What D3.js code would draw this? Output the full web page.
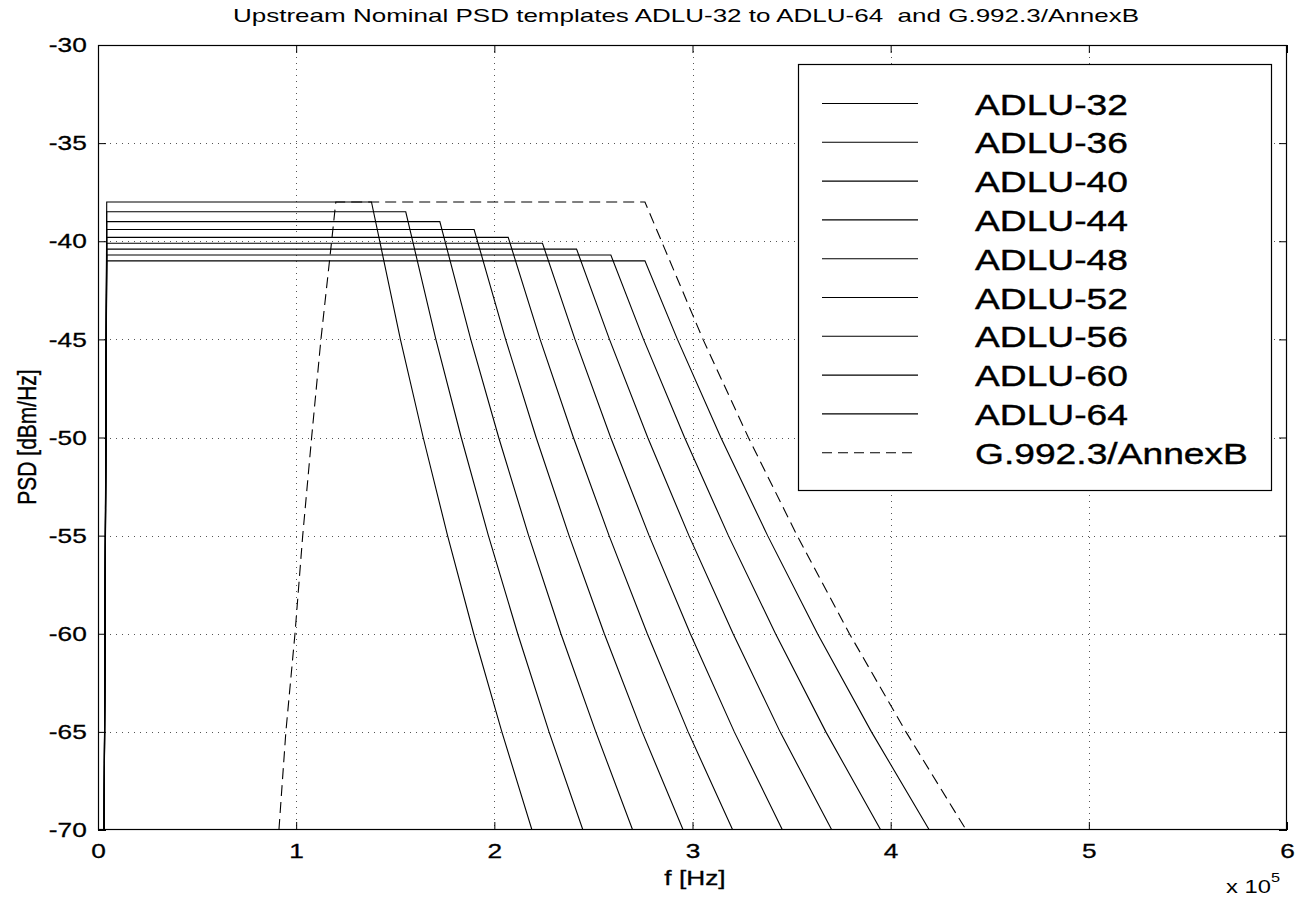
<!DOCTYPE html>
<html><head><meta charset="utf-8">
<script src="https://cdn.jsdelivr.net/npm/d3@7"></script>
<style>
body{margin:0;background:#fff}
svg{display:block}
text{font-family:"Liberation Sans",Arial,Helvetica,sans-serif;fill:#000}
</style>
</head><body>
<svg id="chart" width="1297" height="898"></svg>
<script>
// ---------------- data (frequency in units of 1e5 Hz, PSD in dBm/Hz) ----------------
const seriesNames = ["ADLU-32","ADLU-36","ADLU-40","ADLU-44","ADLU-48","ADLU-52","ADLU-56","ADLU-60","ADLU-64"];
const flatLevels  = [-38.0,-38.5,-39.0,-39.4,-39.8,-40.1,-40.4,-40.7,-41.0];
const riseStartF  = 0.031;   // low-frequency edge, bottom
const riseEndF    = 0.044;   // low-frequency edge, top
const kneeF       = [1.380,1.553,1.725,1.898,2.070,2.243,2.415,2.588,2.760];
const dropLevels  = [-45,-50,-55,-60,-65,-70];
const fAtMinus45  = [1.526,1.705,1.881,2.057,2.231,2.407,2.581,2.753,2.924];
const fAtMinus50  = [1.641,1.833,2.022,2.211,2.399,2.587,2.774,2.960,3.143];
const fAtMinus55  = [1.764,1.970,2.173,2.377,2.579,2.781,2.982,3.181,3.379];
const fAtMinus60  = [1.896,2.118,2.336,2.555,2.772,2.989,3.205,3.419,3.631];
const fAtMinus65  = [2.038,2.276,2.512,2.746,2.978,3.211,3.442,3.673,3.903];
const fAtMinus70  = [2.190,2.447,2.698,2.953,3.203,3.454,3.703,3.950,4.195];
const annexBName  = "G.992.3/AnnexB";
const annexBF     = [0.913,0.948,0.994,1.033,1.078,1.125,1.179,1.200,2.760,3.053,3.282,3.528,3.792,4.077,4.381];
const annexBdB    = [-70,-65,-60,-55,-50,-45,-40,-38,-38,-45,-50,-55,-60,-65,-70];
const xTicks      = [0,1,2,3,4,5,6];
const yTicks      = [-70,-65,-60,-55,-50,-45,-40,-35,-30];
const titleText   = "Upstream Nominal PSD templates ADLU-32 to ADLU-64  and G.992.3/AnnexB";
const xLabelText  = "f [Hz]";
const yLabelText  = "PSD [dBm/Hz]";

// ---------------- layout ----------------
const L = 98, R = 1287, T = 45, B = 830;
const svg = d3.select("#chart");
const x = d3.scaleLinear().domain([0,6]).range([L,R]);
const y = d3.scaleLinear().domain([-70,-30]).range([B,T]);
const SX = 1.25; // horizontal stretch of the reference's lettering

svg.append("rect").attr("width",1297).attr("height",898).attr("fill","#fff");

// grid
const grid = svg.append("g").attr("stroke","#555").attr("stroke-width",1).attr("stroke-dasharray","1,5");
grid.selectAll(".gx").data(xTicks.slice(1,-1)).join("line")
  .attr("x1",d=>Math.round(x(d))+0.5).attr("x2",d=>Math.round(x(d))+0.5).attr("y1",T).attr("y2",B);
grid.selectAll(".gy").data(yTicks.slice(1,-1)).join("line")
  .attr("y1",d=>Math.round(y(d))+0.5).attr("y2",d=>Math.round(y(d))+0.5).attr("x1",L).attr("x2",R);

// data
svg.append("clipPath").attr("id","clip").append("rect").attr("x",L).attr("y",T).attr("width",R-L).attr("height",B-T);
const line = d3.line().x(d=>x(d[0])).y(d=>y(d[1]));
const dropF = [fAtMinus45,fAtMinus50,fAtMinus55,fAtMinus60,fAtMinus65,fAtMinus70];
const adlu = seriesNames.map((n,i)=>({name:n, pts:
  [[riseStartF,-70],[riseEndF,flatLevels[i]],[kneeF[i],flatLevels[i]]]
  .concat(dropLevels.map((lv,k)=>[dropF[k][i],lv]))}));
const annexB = annexBF.map((f,i)=>[f,annexBdB[i]]);
const dg = svg.append("g").attr("clip-path","url(#clip)").attr("fill","none");
dg.selectAll("path.adlu").data(adlu).join("path").attr("class","adlu")
  .attr("d",d=>line(d.pts)).attr("stroke","#000").attr("stroke-width",1.1);
dg.append("path").attr("d",line(annexB)).attr("stroke","#000").attr("stroke-width",1.1).attr("stroke-dasharray","11,6");

// axes
const fmt = d=>String(d);
const ax = svg.append("g").attr("transform",`translate(0,${B})`)
  .call(d3.axisBottom(x).tickValues(xTicks).tickSizeInner(-8).tickSizeOuter(0).tickPadding(13).tickFormat(fmt));
svg.append("g").attr("transform",`translate(0,${T})`)
  .call(d3.axisTop(x).tickValues(xTicks).tickSizeInner(-8).tickSizeOuter(0).tickFormat(""));
const ay = svg.append("g").attr("transform",`translate(${L},0)`)
  .call(d3.axisLeft(y).tickValues(yTicks).tickSizeInner(-8).tickSizeOuter(0).tickPadding(9).tickFormat(fmt));
svg.append("g").attr("transform",`translate(${R},0)`)
  .call(d3.axisRight(y).tickValues(yTicks).tickSizeInner(-8).tickSizeOuter(0).tickFormat(""));
svg.selectAll(".domain").remove();
svg.selectAll(".tick line").attr("stroke","#000");
svg.selectAll(".tick text").attr("font-size",21).attr("font-family","Liberation Sans, Arial, sans-serif")
  .attr("fill","#000").attr("stroke","#000").attr("stroke-width",0.3);
ax.selectAll(".tick text").attr("transform",`scale(${SX},1)`);
ay.selectAll(".tick text").attr("transform",`scale(${SX},1)`);

// box
svg.append("rect").attr("x",L+0.5).attr("y",T+0.5).attr("width",R-L-1).attr("height",B-T-1)
  .attr("fill","none").attr("stroke","#000").attr("stroke-width",1.2);

// title & labels
svg.append("text").attr("x",686).attr("y",22).attr("text-anchor","middle").attr("font-size",19)
  .style("white-space","pre").attr("textLength",906).attr("lengthAdjust","spacingAndGlyphs").text(titleText);
svg.append("text").attr("transform",`translate(695,885) scale(${SX},1)`).attr("text-anchor","middle")
  .attr("font-size",21).attr("stroke","#000").attr("stroke-width",0.3).text(xLabelText);
svg.append("text").attr("transform",`translate(36,437) scale(${SX},1) rotate(-90)`).attr("text-anchor","middle")
  .attr("font-size",21).attr("stroke","#000").attr("stroke-width",0.3).text(yLabelText);
const ex = svg.append("text").attr("transform",`translate(1226,893) scale(${SX},1)`).attr("font-size",19);
ex.append("tspan").text("x 10");
ex.append("tspan").attr("dy",-11).attr("font-size",13).text("5");

// legend
const lg = svg.append("g");
lg.append("rect").attr("x",798.5).attr("y",64.5).attr("width",473).attr("height",426)
  .attr("fill","#fff").attr("stroke","#000").attr("stroke-width",1.2);
const legItems = seriesNames.map(n=>({name:n,dash:null})).concat([{name:annexBName,dash:"10,6"}]);
const le = lg.selectAll("g.le").data(legItems).join("g").attr("class","le")
  .attr("transform",(d,i)=>`translate(0,${103.5+i*38.8})`);
le.append("line").attr("x1",822).attr("x2",918).attr("y1",0).attr("y2",0)
  .attr("stroke","#000").attr("stroke-width",1.1).attr("stroke-dasharray",d=>d.dash);
le.append("text").attr("transform",`translate(975,11) scale(1.24,1)`).attr("font-size",30)
  .attr("stroke","#000").attr("stroke-width",0.4).text(d=>d.name);
</script>
</body></html>
